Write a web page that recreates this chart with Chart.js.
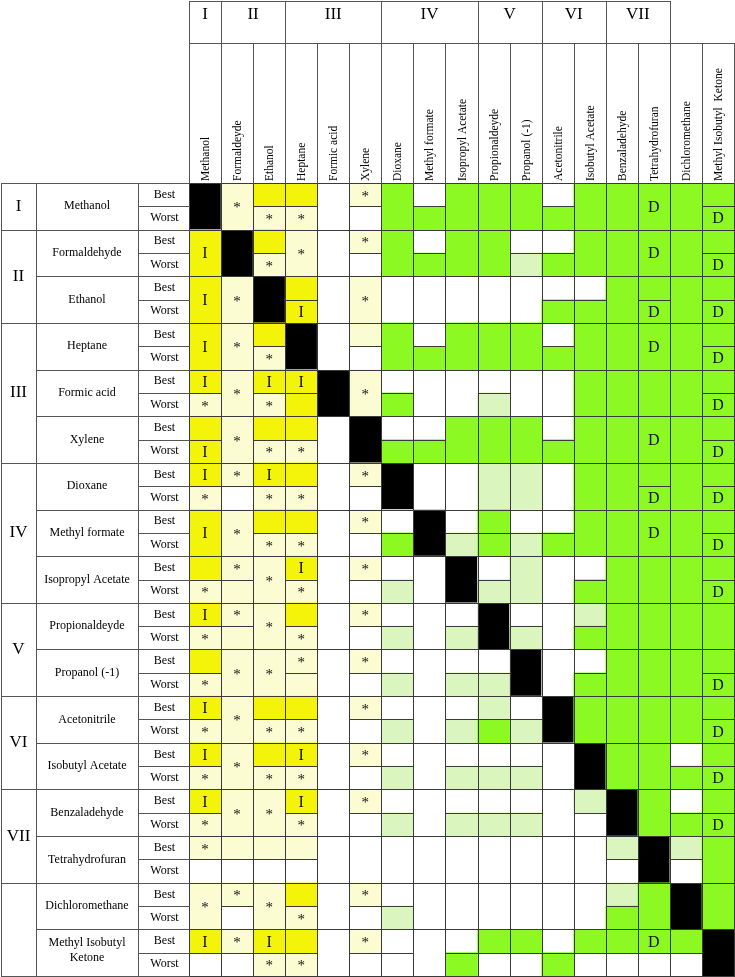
<!DOCTYPE html>
<html>
<head>
<meta charset="utf-8">
<script src="https://cdn.jsdelivr.net/npm/chart.js@4/dist/chart.umd.min.js"></script>
<style>
  html, body { margin: 0; padding: 0; background: #fff; }
  canvas { display: block; }
</style>
</head>
<body>
<canvas id="grid" width="735" height="977"></canvas>
<script>
let columns = ["Methanol","Formaldeyde","Ethanol","Heptane","Formic acid","Xylene","Dioxane","Methyl formate",
  "Isopropyl Acetate","Propionaldeyde","Propanol (-1)","Acetonitrile","Isobutyl Acetate","Benzaladehyde",
  "Tetrahydrofuran","Dichloromethane","Methyl Isobutyl  Ketone"];
let rowNames = ["Methanol","Formaldehyde","Ethanol","Heptane","Formic acid","Xylene","Dioxane","Methyl formate",
  "Isopropyl Acetate","Propionaldeyde","Propanol (-1)","Acetonitrile","Isobutyl Acetate","Benzaladehyde",
  "Tetrahydrofuran","Dichloromethane",["Methyl Isobutyl","Ketone"]];
let groupNames = ["I","II","III","IV","V","VI","VII",""];
let groupSizes = [1,2,3,3,2,2,2,2];
let subRows = ["Best","Worst"];

// Y yellow, y light yellow, G green, g light green, W white, K black
// second letter: I, S (= *), D ; "a/b" = Best/Worst split, single token = merged
let grid = [
  "K yS Y/yS Y/yS W yS/W G W/G G G G W/G G G GD G G/GD",
  "YI K Y/yS yS W yS/W G W/G G G W/g W/G G G GD G G/GD",
  "YI yS K Y/YI W yS W W W W W W/G W/G G G/GD G G/GD",
  "YI yS Y/yS K W y/W G W/G G G G W/G G G GD G G/GD",
  "YI/yS yS YI/yS YI/Y K yS W/G W W W/g W W G G G G G/GD",
  "Y/YI yS Y/yS Y/yS W K W/G W/G G G G W/G G G GD G G/GD",
  "YI/yS yS/W YI/yS Y/yS W yS/W K W W g g W G G G/GD G G/GD",
  "YI yS Y/yS Y/yS W yS/W W/G K W/g G/G W/g W/G G G GD G G/GD",
  "Y/yS yS/y yS YI/yS W yS/W W/g W K W/g g W W/G G G G G/GD",
  "YI/yS yS/y yS Y/yS W yS/W W/g W W/g K W/g W g/G G G G G",
  "Y/yS yS yS yS/y W yS/W W/g W W/g W/g K W W/G G G G G/GD",
  "YI/yS yS Y/yS Y/yS W yS/W W/g W W/g g/G W/g K G G G G G/GD",
  "YI/yS yS Y/yS YI/yS W yS/W W/g W W/g W/g W/g W K G G W/G G/GD",
  "YI/yS yS yS YI/yS W yS/W W/g W W/g W/g W/g W g/W K G W/G G/GD",
  "yS/W y/W y/W y/W W W W W W W W W W g/W K g/W G",
  "yS yS/W yS Y/yS W yS/W W/g W W W W W W g/G G K G",
  "YI/W yS/W YI/yS Y/yS W yS/W W/W W W/G G/W G/W W/G G/W G/W GD/W G/W K"
];

let palette = { Y: "#f4f40a", y: "#fcfcd2", G: "#8cfa22", g: "#dbf5be", W: "#ffffff", K: "#000000" };
let marks = { I: "I", S: "*", D: "D" };
let serif = "'Liberation Serif', 'Times New Roman', serif";

let cellsByColor = {};
Object.keys(palette).forEach(k => cellsByColor[k] = []);
let cellText = [];

grid.forEach((line, r) => {
  line.trim().split(/\s+/).forEach((tok, c) => {
    let parts = tok.split("/");
    parts.forEach((p, k) => {
      let from = parts.length === 1 ? 2 * r : 2 * r + k;
      let to = parts.length === 1 ? 2 * r + 2 : from + 1;
      cellsByColor[p[0]].push({ x: columns[c], y: [from, to] });
      if (p.length > 1) cellText.push({ col: c, from: from, to: to, text: marks[p[1]] });
    });
  });
});

let datasets = Object.keys(palette).map(k => ({
  label: k,
  data: cellsByColor[k],
  backgroundColor: palette[k],
  borderWidth: 0,
  grouped: false,
  barPercentage: 1,
  categoryPercentage: 1
}));

function px(v) { return Math.round(v) + 0.5; }

function hline(ctx, x1, x2, y) {
  ctx.beginPath(); ctx.moveTo(Math.round(x1), px(y)); ctx.lineTo(Math.round(x2) + 1, px(y)); ctx.stroke();
}
function vline(ctx, x, y1, y2) {
  ctx.beginPath(); ctx.moveTo(px(x), Math.round(y1)); ctx.lineTo(px(x), Math.round(y2) + 1); ctx.stroke();
}

let tablePlugin = {
  id: "table",
  afterDatasetsDraw(chart) {
    let ctx = chart.ctx, xs = chart.scales.x, ys = chart.scales.y;
    let colW = xs.getPixelForValue(1) - xs.getPixelForValue(0);
    let colLeft = i => xs.getPixelForValue(i) - colW / 2;
    let top = ys.getPixelForValue(0), bottom = ys.getPixelForValue(34);
    let gridLeft = colLeft(0), gridRight = colLeft(columns.length);
    let leftX = [1, 36, 138, gridLeft];
    let headTop = 1, headMid = 43;

    ctx.save();

    // cell borders
    ctx.strokeStyle = "#3a3a3a";
    ctx.lineWidth = 1;
    chart.data.datasets.forEach((ds, i) => {
      chart.getDatasetMeta(i).data.forEach(el => {
        let p = el.getProps(["x", "y", "base", "width"], true);
        let l = px(p.x - p.width / 2), r = px(p.x + p.width / 2);
        let t = px(Math.min(p.y, p.base)), b = px(Math.max(p.y, p.base));
        ctx.strokeRect(l, t, r - l, b - t);
      });
    });

    // cell marks
    ctx.fillStyle = "#111";
    ctx.textAlign = "center";
    ctx.textBaseline = "alphabetic";
    cellText.forEach(m => {
      ctx.font = (m.text === "*" ? "15px " : "16px ") + serif;
      let cy = (ys.getPixelForValue(m.from) + ys.getPixelForValue(m.to)) / 2;
      ctx.fillText(m.text, xs.getPixelForValue(m.col), cy + (m.text === "*" ? 6 : 5.5));
    });

    // header
    ctx.strokeStyle = "#555";
    let g0 = 0;
    ctx.fillStyle = "#000";
    ctx.font = "17px " + serif;
    groupNames.forEach((g, i) => {
      let a = colLeft(g0), b = colLeft(g0 + groupSizes[i]);
      if (g) {
        hline(ctx, a, b, headTop);
        vline(ctx, a, headTop, headMid);
        vline(ctx, b, headTop, headMid);
        ctx.fillText(g, (a + b) / 2, 19);
      }
      g0 += groupSizes[i];
    });
    hline(ctx, gridLeft, gridRight, headMid);
    for (let i = 0; i <= columns.length; i++) vline(ctx, colLeft(i), headMid, top);
    ctx.font = "11.5px " + serif;
    ctx.textAlign = "left";
    ctx.textBaseline = "middle";
    columns.forEach((name, i) => {
      ctx.save();
      ctx.translate(xs.getPixelForValue(i) + 1, top - 2);
      ctx.rotate(-Math.PI / 2);
      ctx.fillText(name, 0, 0);
      ctx.restore();
    });

    // left table
    vline(ctx, leftX[0], top, bottom);
    vline(ctx, leftX[1], top, bottom);
    vline(ctx, leftX[2], top, bottom);
    hline(ctx, leftX[0], gridLeft, top);
    hline(ctx, leftX[0], gridLeft, bottom);
    ctx.textAlign = "center";
    ctx.textBaseline = "middle";
    rowNames.forEach((name, r) => {
      let y0 = ys.getPixelForValue(2 * r), y1 = ys.getPixelForValue(2 * r + 1), y2 = ys.getPixelForValue(2 * r + 2);
      hline(ctx, leftX[1], gridLeft, y2);
      hline(ctx, leftX[2], gridLeft, y1);
      ctx.font = "12px " + serif;
      let cx = (leftX[1] + leftX[2]) / 2;
      if (Array.isArray(name)) {
        ctx.fillText(name[0], cx, (y0 + y2) / 2 - 10);
        ctx.fillText(name[1], cx, (y0 + y2) / 2 + 5);
      } else {
        ctx.fillText(name, cx, (y0 + y2) / 2);
      }
      ctx.font = "12px " + serif;
      subRows.forEach((s, k) => {
        let a = ys.getPixelForValue(2 * r + k), b = ys.getPixelForValue(2 * r + k + 1);
        ctx.fillText(s, (leftX[2] + leftX[3]) / 2 + 1, (a + b) / 2);
      });
    });
    let r0 = 0;
    ctx.font = "17px " + serif;
    groupNames.forEach((g, i) => {
      let a = ys.getPixelForValue(2 * r0), b = ys.getPixelForValue(2 * (r0 + groupSizes[i]));
      hline(ctx, leftX[0], leftX[1], b);
      if (g) ctx.fillText(g, (leftX[0] + leftX[1]) / 2, (a + b) / 2);
      r0 += groupSizes[i];
    });

    ctx.restore();
  }
};

new Chart(document.getElementById("grid"), {
  type: "bar",
  data: { labels: columns, datasets: datasets },
  options: {
    responsive: false,
    animation: false,
    layout: { padding: { left: 189, top: 183, right: 1, bottom: 1 } },
    plugins: { legend: { display: false }, tooltip: { enabled: false } },
    scales: {
      x: { type: "category", display: false, offset: true },
      y: { type: "linear", display: false, min: 0, max: 34, reverse: true }
    }
  },
  plugins: [tablePlugin]
});
</script>
</body>
</html>
